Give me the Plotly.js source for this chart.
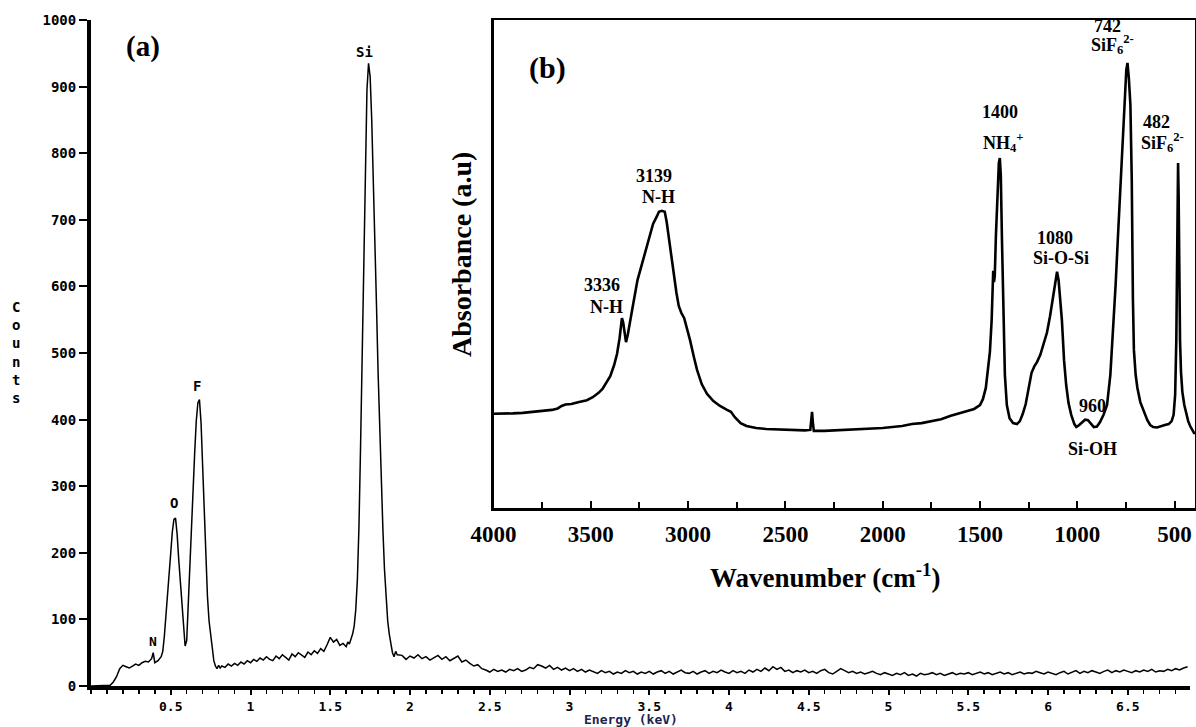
<!DOCTYPE html>
<html>
<head>
<meta charset="utf-8">
<script src="https://cdn.plot.ly/plotly-3.0.1.min.js"></script>
<style>html,body{margin:0;padding:0;background:#fff;}#chart{width:1196px;height:727px;}</style>
</head>
<body>
<div id="chart"></div>
<script>
// ---------- Panel (a): EDS spectrum ----------
const edsEnergy = [
0,0.02,0.04,0.06,0.08,0.10,0.12,0.14,0.16,0.18,0.20,0.22,0.24,0.26,0.28,0.30,0.32,0.34,0.36,0.38,0.39,0.40,0.42,0.44,
0.45,0.46,0.47,0.48,0.49,0.50,0.51,0.52,0.53,0.54,0.55,0.56,0.57,0.58,0.59,0.60,0.61,0.62,0.63,0.64,0.65,0.66,0.67,0.68,0.69,0.70,0.71,0.72,0.73,0.74,0.75,0.76,0.77,0.78,0.79,0.80,0.81,0.82,
0.84,0.86,0.88,0.90,0.92,0.94,0.96,0.98,1.00,1.02,1.04,1.06,1.08,1.10,1.12,1.14,1.16,1.18,1.20,1.22,1.24,1.26,1.28,1.30,1.32,1.34,1.36,1.38,1.40,1.42,1.44,1.46,1.48,1.50,1.52,1.54,1.56,1.58,1.60,
1.61,1.62,1.63,1.64,1.65,1.66,1.67,1.68,1.69,1.70,1.71,1.72,1.73,1.74,1.75,1.76,1.77,1.78,1.79,1.80,1.81,1.82,1.83,1.84,1.85,1.86,1.87,1.88,1.89,1.90,1.91,1.92,
1.950,1.975,2.000,2.025,2.050,2.075,2.100,2.125,2.150,2.175,2.200,2.225,2.250,2.275,2.300,2.325,2.350,2.375,2.400,2.425,2.450,2.475,2.500,2.525,2.550,2.575,2.600,2.625,2.650,2.675,2.700,2.725,2.750,2.775,2.800,2.825,2.850,2.875,2.900,2.925,2.950,2.975,
3.000,3.025,3.050,3.075,3.100,3.125,3.150,3.175,3.200,3.225,3.250,3.275,3.300,3.325,3.350,3.375,3.400,3.425,3.450,3.475,3.500,3.525,3.550,3.575,3.600,3.625,3.650,3.675,3.700,3.725,3.750,3.775,3.800,3.825,3.850,3.875,3.900,3.925,3.950,3.975,
4.000,4.025,4.050,4.075,4.100,4.125,4.150,4.175,4.200,4.225,4.250,4.275,4.300,4.325,4.350,4.375,4.400,4.425,4.450,4.475,4.500,4.525,4.550,4.575,4.600,4.625,4.650,4.675,4.700,4.725,4.750,4.775,4.800,4.825,4.850,4.875,4.900,4.925,4.950,4.975,
5.000,5.025,5.050,5.075,5.100,5.125,5.150,5.175,5.200,5.225,5.250,5.275,5.300,5.325,5.350,5.375,5.400,5.425,5.450,5.475,5.500,5.525,5.550,5.575,5.600,5.625,5.650,5.675,5.700,5.725,5.750,5.775,5.800,5.825,5.850,5.875,5.900,5.925,5.950,5.975,
6.000,6.025,6.050,6.075,6.100,6.125,6.150,6.175,6.200,6.225,6.250,6.275,6.300,6.325,6.350,6.375,6.400,6.425,6.450,6.475,6.500,6.525,6.550,6.575,6.600,6.625,6.650,6.675,6.700,6.725,6.750,6.775,6.800,6.825,6.850,6.875
];
const edsCounts = [
0,0,0,0,0,0,1,6,14,26,31,29,27,30,33,31,35,37,36,41,50,35,38,44,
52,75,110,140,165,200,232,250,252,228,190,155,118,82,60,68,130,175,230,290,350,398,425,430,395,330,255,190,135,98,75,52,38,30,26,31,27,30,
28,33,30,34,31,36,33,38,35,40,37,42,39,44,40,38,45,41,47,43,39,48,44,50,46,43,51,47,53,49,56,52,62,73,66,70,61,64,59,
66,63,70,78,90,115,160,240,360,500,650,790,895,935,915,850,765,670,570,470,385,305,235,175,130,98,78,66,50,44,52,47,
46,40,45,42,47,41,44,39,43,46,40,44,38,41,45,36,39,34,30,32,26,24,21,25,22,24,21,25,23,26,22,24,28,26,32,30,27,31,25,28,24,27,
23,26,22,25,21,24,22,19,23,20,22,18,21,19,23,20,22,18,21,19,22,18,21,23,19,22,18,21,24,20,19,22,18,21,23,19,22,20,24,21,
19,23,20,22,19,24,21,25,22,27,23,29,25,28,22,24,20,23,21,24,20,22,19,23,25,20,18,22,26,23,20,22,19,21,18,20,22,19,17,20,
18,16,19,17,20,16,18,15,19,17,18,20,17,19,16,18,20,17,19,18,20,17,19,21,18,20,17,19,21,18,20,17,19,21,18,20,19,22,20,18,
21,19,17,20,22,18,21,23,19,22,20,23,21,19,22,24,20,23,21,24,22,20,23,21,24,22,25,21,23,22,25,23,26,24,27,29
];
const edsTickVals = [0.5,1,1.5,2,2.5,3,3.5,4,4.5,5,5.5,6,6.5];
const edsTickText = ['0.5','1','1.5','2','2.5','3','3.5','4','4.5','5','5.5','6','6.5'];
const edsPeakLabels = ['N','O','F','Si'];

// ---------- Panel (b): FTIR spectrum ----------
const ftirWavenumber = [
4000,3950,3900,3850,3800,3750,3700,3670,3650,3630,3600,3560,3520,3490,3460,3440,3420,3400,3380,3365,3352,3345,3340,3334,3326,3319,3310,3300,3283,3260,3232,3210,3196,3180,3160,3150,3135,3120,3110,3100,3090,3075,3060,3048,3035,3020,3005,2990,2970,2954,2930,2903,2870,2836,2800,2780,2760,2730,2700,2650,2600,2500,2400,2372,2367,2363,2359,2354,2300,2200,2100,2000,1900,1850,1800,1750,1700,1650,1600,1560,1530,1500,1485,1470,1458,1449,1440,1435,1432,1428,1424,1418,1410,1403,1398,1393,1387,1380,1372,1362,1348,1330,1310,1295,1280,1265,1250,1235,1220,1207,1190,1170,1156,1140,1125,1112,1104,1096,1088,1079,1068,1057,1045,1031,1015,1005,990,975,960,945,930,915,899,883,865,847,830,816,803,790,777,765,755,748,742,735,727,720,714,709,700,691,676,661,640,625,610,590,570,550,530,515,505,497,491,487,484,482,479,476,472,467,460,450,440,430,420,410,400,395
];
const ftirAbsorbance = [
19.3,19.3,19.4,19.5,19.7,19.8,20.1,20.4,20.9,21.2,21.3,21.7,22.1,22.7,23.6,24.4,25.8,27.0,29.3,31.6,34.8,37.5,38.9,38.1,35.2,34.0,35.5,38.1,41.6,46.7,50.8,54.3,56.1,58.2,59.8,60.7,60.9,60.7,58.6,55.7,52.5,47.7,44.1,41.4,40.0,38.9,36.9,34.4,30.9,28.3,25.4,23.4,21.9,20.9,20.1,19.7,18.6,17.4,16.8,16.4,16.2,16.0,15.9,16.0,17.8,19.7,17.6,15.8,15.8,16.0,16.2,16.4,16.8,17.2,17.4,17.8,18.2,18.9,19.5,19.9,20.3,21.1,22.3,24.6,28.3,32.0,38.5,46.7,48.6,46.3,47.5,55.9,65.2,70.7,71.7,68.2,54.9,38.5,27.3,21.1,18.4,17.4,17.2,17.8,19.3,21.3,24.2,27.7,29.1,29.9,31.4,33.8,35.9,39.3,43.0,47.1,48.4,46.7,43.0,38.5,30.3,25.2,21.5,19.1,17.2,16.6,17.0,17.6,18.1,18.0,17.2,16.6,16.7,17.6,19.1,21.1,27.3,35.9,45.7,56.4,66.8,76.8,84.6,89.8,91.2,88.1,82.6,67.2,42.6,32.4,27.3,24.6,21.7,20.1,18.0,17.0,16.6,16.5,16.8,17.0,17.2,17.8,19.1,23.2,34.4,54.9,68.2,70.7,63.9,48.8,34.4,27.9,23.8,21.1,19.3,17.8,16.8,16.0,15.4,15.2
];
const ftirTickVals = [4000,3500,3000,2500,2000,1500,1000,500];

// ---------- Layout helpers (pixel -> paper) ----------
const W = 1196, H = 727;
function ann(text, px, py, size, family, opts) {
  return Object.assign({
    text: text, xref: 'paper', yref: 'paper', x: px / W, y: 1 - py / H,
    xanchor: 'center', yanchor: 'middle', showarrow: false,
    font: {family: family, size: size, color: '#000', weight: 'bold'}
  }, opts || {});
}
const SERIF = '"Liberation Serif", "Times New Roman", serif';
const MONO = '"DejaVu Sans Mono", "Liberation Mono", monospace';

const traces = [
  {x: edsEnergy, y: edsCounts, type: 'scatter', mode: 'lines', xaxis: 'x', yaxis: 'y',
   line: {color: '#000', width: 1.5}, hoverinfo: 'skip'},
  {x: ftirWavenumber, y: ftirAbsorbance, type: 'scatter', mode: 'lines', xaxis: 'x2', yaxis: 'y2',
   line: {color: '#000', width: 2.6}, hoverinfo: 'skip'}
];

const monoTick = {family: MONO, size: 14, color: '#000', weight: 'bold'};
const layout = {
  width: W, height: H,
  margin: {l: 0, r: 0, t: 0, b: 0},
  paper_bgcolor: '#fff', plot_bgcolor: '#fff',
  showlegend: false,
  xaxis: {
    domain: [91 / W, 1190 / W], range: [0, 6.89], anchor: 'y',
    showline: true, linewidth: 4, linecolor: '#000', showgrid: false, zeroline: false,
    ticks: 'outside', ticklen: 5, tickwidth: 2, tickcolor: '#000',
    tickmode: 'array', tickvals: edsTickVals, ticktext: edsTickText,
    tickfont: {family: MONO, size: 13, color: '#000', weight: 'bold'},
    minor: {dtick: 0.1, tick0: 0, ticks: 'outside', ticklen: 4, tickwidth: 1.5, tickcolor: '#000', showgrid: false}
  },
  yaxis: {
    domain: [41 / H, 707 / H], range: [0, 1000], anchor: 'x',
    showline: true, linewidth: 4, linecolor: '#000', showgrid: false, zeroline: false,
    ticks: 'outside', ticklen: 8, tickwidth: 2, tickcolor: '#000',
    dtick: 100, tick0: 0, tickfont: monoTick
  },
  xaxis2: {
    domain: [493.5 / W, 1195 / W], range: [4000, 395], anchor: 'y2',
    showline: true, mirror: true, linewidth: 2.5, linecolor: '#000', showgrid: false, zeroline: false,
    ticks: 'inside', ticklen: 7, tickwidth: 2, tickcolor: '#000',
    tickmode: 'array', tickvals: ftirTickVals,
    minor: {dtick: 250, tick0: 0, ticks: 'inside', ticklen: 6, tickwidth: 2, tickcolor: '#000', showgrid: false},
    tickfont: {family: SERIF, size: 23, color: '#000', weight: 'bold'},
    ticklabelstandoff: 4
  },
  yaxis2: {
    domain: [219 / H, 707 / H], range: [0, 100], anchor: 'x2',
    showline: true, mirror: true, linewidth: 2.5, linecolor: '#000', showgrid: false, zeroline: false,
    ticks: '', showticklabels: false
  },
  annotations: [
    // panel (a)
    ann('(a)', 143, 47, 29, SERIF),
    ann(edsPeakLabels[3], 364, 52, 14, MONO),
    ann(edsPeakLabels[2], 197, 386, 14, MONO),
    ann(edsPeakLabels[1], 174, 503, 14, MONO),
    ann(edsPeakLabels[0], 153, 641, 13, MONO),
    ann('C<br>o<br>u<br>n<br>t<br>s', 16, 352, 14, MONO),
    ann('Energy (keV)', 631, 719, 13, MONO, {font: {family: MONO, size: 13, color: '#1b2550', weight: 'bold'}}),
    // panel (b)
    ann('(b)', 547, 68, 30, SERIF),
    ann('Absorbance (a.u)', 462, 255, 28, SERIF, {textangle: -90}),
    ann('Wavenumber (cm<sup>-1</sup>)', 825, 576, 27, SERIF),
    ann('3336', 602, 285, 18, SERIF),
    ann('N-H', 606, 307, 18, SERIF),
    ann('3139', 654, 176, 18, SERIF),
    ann('N-H', 658, 197, 18, SERIF),
    ann('1400', 1000, 112, 18, SERIF),
    ann('NH<sub>4</sub><sup>+</sup>', 1003, 142, 18, SERIF),
    ann('1080', 1055, 238, 18, SERIF),
    ann('Si-O-Si', 1061, 258, 18, SERIF),
    ann('960', 1092, 406, 18, SERIF),
    ann('Si-OH', 1092, 449, 18, SERIF),
    ann('742', 1092, 26, 18, SERIF, {xanchor: 'left'}),
    ann('SiF<sub>6</sub><sup>2-</sup>', 1089, 45, 18, SERIF, {xanchor: 'left'}),
    ann('482', 1141, 122, 18, SERIF, {xanchor: 'left'}),
    ann('SiF<sub>6</sub><sup>2-</sup>', 1139, 142, 18, SERIF, {xanchor: 'left'})
  ]
};

Plotly.newPlot('chart', traces, layout, {staticPlot: true, displayModeBar: false});
</script>
</body>
</html>
